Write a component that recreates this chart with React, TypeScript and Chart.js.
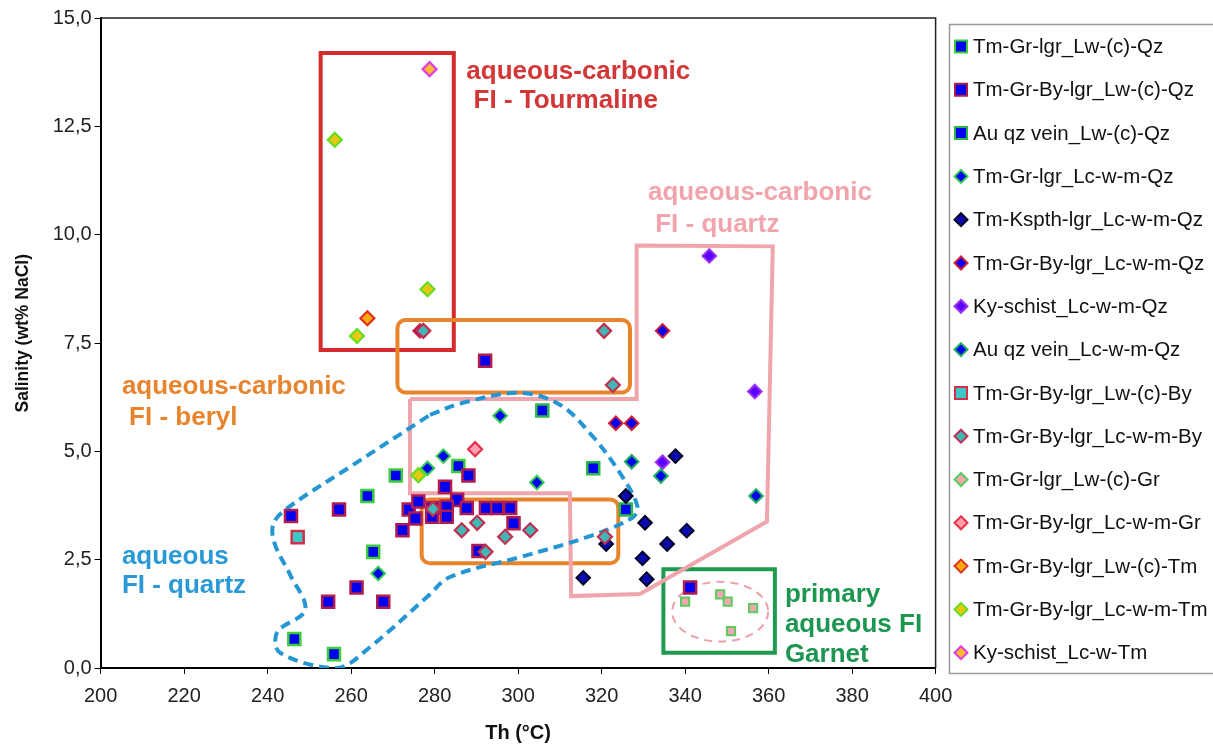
import React, { useEffect, useRef } from 'react';
import { Chart, registerables } from 'chart.js';

Chart.register(...registerables);

type Pt = [number, number]; // [Th (°C), salinity (wt% NaCl)]

// ---------- axes ----------
const xTicks = [200, 220, 240, 260, 280, 300, 320, 340, 360, 380, 400];
const yTicks = [0, 2.5, 5, 7.5, 10, 12.5, 15];

// ---------- series ----------
const seriesLabels = [
  'Tm-Gr-lgr_Lw-(c)-Qz',
  'Tm-Gr-By-lgr_Lw-(c)-Qz',
  'Au qz vein_Lw-(c)-Qz',
  'Tm-Gr-lgr_Lc-w-m-Qz',
  'Tm-Kspth-lgr_Lc-w-m-Qz',
  'Tm-Gr-By-lgr_Lc-w-m-Qz',
  'Ky-schist_Lc-w-m-Qz',
  'Au qz vein_Lc-w-m-Qz',
  'Tm-Gr-By-lgr_Lw-(c)-By',
  'Tm-Gr-By-lgr_Lc-w-m-By',
  'Tm-Gr-lgr_Lw-(c)-Gr',
  'Tm-Gr-By-lgr_Lc-w-m-Gr',
  'Tm-Gr-By-lgr_Lw-(c)-Tm',
  'Tm-Gr-By-lgr_Lc-w-m-Tm',
  'Ky-schist_Lc-w-Tm',
];

const tmGrLwQz: Pt[] = [[263.9, 3.97], [270.7, 4.44], [265.3, 2.68], [246.4, 0.67], [255.9, 0.32], [285.7, 4.66]];
const tmGrByLwQz: Pt[] = [
  [285.4, 3.88], [292.1, 7.09], [245.6, 3.51], [257.1, 3.66], [272.3, 3.18], [261.3, 1.86], [254.5, 1.53],
  [267.7, 1.53], [341.2, 1.86], [288.1, 4.44], [282.5, 4.18], [273.8, 3.66], [275.4, 3.45], [276.1, 3.84],
  [279.5, 3.69], [282.9, 3.72], [287.7, 3.69], [292.3, 3.69], [295.0, 3.69], [298.1, 3.69], [279.4, 3.49],
  [282.9, 3.49], [298.9, 3.34], [290.5, 2.70],
];
const auLwQz: Pt[] = [[305.8, 5.94], [318.0, 4.61], [325.8, 3.66]];
const tmGrLcQz: Pt[] = [[266.5, 2.18], [278.3, 4.61], [282.1, 4.89], [295.7, 5.82], [304.5, 4.28]];
const tmKspthLcQz: Pt[] = [
  [325.8, 3.97], [330.4, 3.35], [340.4, 3.17], [335.7, 2.86], [329.8, 2.53], [330.8, 2.05],
  [315.6, 2.08], [321.1, 2.86], [337.7, 4.89],
];
const tmGrByLcQz: Pt[] = [[334.6, 7.78], [323.4, 5.65], [327.2, 5.65], [276.5, 7.78]];
const kySchistLcQz: Pt[] = [[345.8, 9.51], [356.7, 6.38], [334.6, 4.75]];
const auLcQz: Pt[] = [[327.2, 4.76], [334.2, 4.43], [357.0, 3.97]];
const tmGrByLwBy: Pt[] = [[247.2, 3.02]];
const tmGrByLcBy: Pt[] = [
  [277.3, 7.78], [320.6, 7.78], [322.7, 6.53], [279.6, 3.67], [286.5, 3.18], [290.2, 3.35],
  [296.9, 3.03], [302.9, 3.18], [292.2, 2.68], [320.8, 3.03],
];
const tmGrLwGr: Pt[] = [[340.0, 1.53], [348.4, 1.70], [350.2, 1.53], [356.3, 1.38], [351.0, 0.85]];
const tmGrByLcGr: Pt[] = [[289.7, 5.05]];
const tmGrByLwTm: Pt[] = [[263.9, 8.07]];
const tmGrByLcTm: Pt[] = [[256.1, 12.19], [278.3, 8.74], [261.4, 7.66], [276.1, 4.45]];
const kySchistLcTm: Pt[] = [[278.8, 13.82]];

const seriesData: Pt[][] = [
  tmGrLwQz, tmGrByLwQz, auLwQz, tmGrLcQz, tmKspthLcQz, tmGrByLcQz, kySchistLcQz, auLcQz,
  tmGrByLwBy, tmGrByLcBy, tmGrLwGr, tmGrByLcGr, tmGrByLwTm, tmGrByLcTm, kySchistLcTm,
];

// ---------- marker styles ----------
const seriesStyles = [
  { shape: 'rect', legend: 'rect', fill: '#0000f0', border: '#3ccc3c', r: 8.5, bw: 2.5 },
  { shape: 'rect', legend: 'rect', fill: '#0000f0', border: '#b01c50', r: 8.5, bw: 2.5 },
  { shape: 'rect', legend: 'rect', fill: '#0000f0', border: '#2ab84a', r: 8.5, bw: 2.5 },
  { shape: 'rectRot', legend: 'rectRot', fill: '#0000f0', border: '#33cc55', r: 6.8, bw: 2 },
  { shape: 'rectRot', legend: 'rectRot', fill: '#0a0ab0', border: '#000022', r: 6.8, bw: 2 },
  { shape: 'rectRot', legend: 'rectRot', fill: '#0000f0', border: '#d0203a', r: 6.8, bw: 2 },
  { shape: 'rectRot', legend: 'rectRot', fill: '#5a00ff', border: '#a030f0', r: 6.8, bw: 2 },
  { shape: 'rectRot', legend: 'rectRot', fill: '#0000f0', border: '#20b060', r: 6.8, bw: 2 },
  { shape: 'rect', legend: 'rect', fill: '#3cc8c8', border: '#d03048', r: 8.5, bw: 2.5 },
  { shape: 'rectRot', legend: 'rectRot', fill: '#40b8b8', border: '#c03050', r: 7, bw: 2.2 },
  { shape: 'rect', legend: 'rectRot', fill: '#f4a6b4', border: '#5ccc5c', r: 5.8, bw: 2 },
  { shape: 'rectRot', legend: 'rectRot', fill: '#ff9fb0', border: '#e83048', r: 7, bw: 2.2 },
  { shape: 'rectRot', legend: 'rectRot', fill: '#ffaa10', border: '#e03020', r: 7, bw: 2.2 },
  { shape: 'rectRot', legend: 'rectRot', fill: '#e8c810', border: '#66dd22', r: 7, bw: 2.2 },
  { shape: 'rectRot', legend: 'rectRot', fill: '#ffb830', border: '#e040e0', r: 7, bw: 2.2 },
];

// ---------- annotation geometry (data units) ----------
const quartzPolyT = [274.1, 328.4, 328.4, 361.0, 359.6, 329.2, 312.7, 312.4, 274.1, 274.1];
const quartzPolyS = [6.21, 6.21, 9.75, 9.73, 3.38, 1.71, 1.66, 4.03, 4.03, 6.21];

const aqueousCurve: Pt[] = [
  [278.9, 5.84], [286.8, 6.12], [300.5, 6.35], [310.1, 6.07], [318.0, 5.33], [324.4, 4.5],
  [328.5, 3.76], [327.5, 3.48], [316.5, 3.02], [300.5, 2.56], [283.7, 2.1], [278.2, 1.64],
  [264.5, 0.48], [256.6, 0.0], [243.0, 0.35], [242.3, 0.83], [249.0, 1.34], [245.4, 2.15],
  [241.8, 2.84], [241.3, 3.3], [244.2, 3.65], [259.7, 4.64], [278.9, 5.84],
];

const tourmalineBoxT = [252.7, 284.6];
const tourmalineBoxS = [7.34, 14.19];
const berylBox1T = [271.1, 326.8];
const berylBox1S = [6.36, 8.03];
const berylBox2T = [276.9, 324.0];
const berylBox2S = [2.42, 3.89];
const garnetBoxT = [334.8, 361.5];
const garnetBoxS = [0.35, 2.28];
const garnetEllipse = { t: 348.4, s: 1.3, rt: 11.5, rs: 0.69 };

const noteTourmaline = ['aqueous-carbonic', ' FI - Tourmaline'];
const noteQuartzCarb = ['aqueous-carbonic', ' FI - quartz'];
const noteBeryl = ['aqueous-carbonic', ' FI - beryl'];
const noteAqueous = ['aqueous', 'FI - quartz'];
const noteGarnet = ['primary', 'aqueous FI', 'Garnet'];

const FONT = '"Liberation Sans", Arial, Helvetica, sans-serif';

const boxes = [
  { t: tourmalineBoxT, s: tourmalineBoxS, color: '#d42c2c', radius: 0 },
  { t: berylBox1T, s: berylBox1S, color: '#e8842c', radius: 8 },
  { t: berylBox2T, s: berylBox2S, color: '#e8842c', radius: 8 },
  { t: garnetBoxT, s: garnetBoxS, color: '#1e9a50', radius: 0 },
];

const notes = [
  { lines: noteTourmaline, t: 287.6, s: 13.76, color: '#d23636', gap: 29 },
  { lines: noteQuartzCarb, t: 331.1, s: 10.97, color: '#f2a4ac', gap: 32 },
  { lines: noteBeryl, t: 205.1, s: 6.49, color: '#e8842e', gap: 31 },
  { lines: noteAqueous, t: 205.1, s: 2.56, color: '#2a9ad6', gap: 29 },
  { lines: noteGarnet, t: 363.9, s: 1.7, color: '#1c9650', gap: 30 },
];

const annotationPlugin = {
  id: 'annotations',
  beforeDatasetsDraw(chart: any) {
    const { ctx, scales } = chart;
    const px = (v: number) => scales.x.getPixelForValue(v);
    const py = (v: number) => scales.y.getPixelForValue(v);
    ctx.save();
    for (const b of boxes) {
      const x0 = px(b.t[0]);
      const x1 = px(b.t[1]);
      const y0 = py(b.s[1]);
      const y1 = py(b.s[0]);
      ctx.beginPath();
      ctx.lineWidth = 4;
      ctx.strokeStyle = b.color;
      ctx.lineJoin = 'miter';
      if (b.radius) (ctx as any).roundRect(x0, y0, x1 - x0, y1 - y0, b.radius);
      else ctx.rect(x0, y0, x1 - x0, y1 - y0);
      ctx.stroke();
    }
    const e = garnetEllipse;
    const cx = px(e.t);
    const cy = py(e.s);
    const rx = Math.abs(px(e.t + e.rt) - cx);
    const ry = Math.abs(py(e.s + e.rs) - cy);
    ctx.beginPath();
    ctx.setLineDash([8, 6]);
    ctx.lineWidth = 2;
    ctx.strokeStyle = '#eea0a8';
    ctx.ellipse(cx, cy, rx, ry, 0, 0, Math.PI * 2);
    ctx.stroke();
    ctx.setLineDash([]);
    ctx.restore();
  },
  afterDatasetsDraw(chart: any) {
    const { ctx, scales } = chart;
    ctx.save();
    ctx.font = `bold 26px ${FONT}`;
    ctx.textAlign = 'left';
    ctx.textBaseline = 'middle';
    for (const n of notes) {
      const x = scales.x.getPixelForValue(n.t);
      const y = scales.y.getPixelForValue(n.s);
      ctx.fillStyle = n.color;
      n.lines.forEach((line, i) => ctx.fillText(line, x, y + i * n.gap));
    }
    ctx.restore();
  },
  afterDraw(chart: any) {
    const { ctx, chartArea } = chart;
    ctx.save();
    // plot frame (top / right)
    ctx.strokeStyle = '#222';
    ctx.lineWidth = 1.5;
    ctx.beginPath();
    ctx.moveTo(chartArea.left, chartArea.top);
    ctx.lineTo(chartArea.right, chartArea.top);
    ctx.lineTo(chartArea.right, chartArea.bottom);
    ctx.stroke();

    // legend
    const lx = 949.5;
    const ly = 24.5;
    ctx.strokeStyle = '#9a9a9a';
    ctx.lineWidth = 1.5;
    ctx.strokeRect(lx, ly, 300, 649);
    ctx.font = `20.5px ${FONT}`;
    ctx.textAlign = 'left';
    ctx.textBaseline = 'middle';
    seriesLabels.forEach((label, i) => {
      const st = seriesStyles[i];
      const y = 46.5 + i * 43.3;
      const mx = 961;
      ctx.beginPath();
      if (st.legend === 'rect') {
        ctx.rect(mx - 6, y - 6, 12, 12);
      } else {
        ctx.moveTo(mx, y - 6.5);
        ctx.lineTo(mx + 6.5, y);
        ctx.lineTo(mx, y + 6.5);
        ctx.lineTo(mx - 6.5, y);
        ctx.closePath();
      }
      ctx.fillStyle = st.fill;
      ctx.fill();
      ctx.lineWidth = 2;
      ctx.strokeStyle = st.border;
      ctx.stroke();
      ctx.fillStyle = '#111';
      ctx.fillText(label, 973, y + 1);
    });
    ctx.restore();
  },
};

export default function App() {
  const ref = useRef<HTMLCanvasElement | null>(null);

  useEffect(() => {
    if (!ref.current) return;

    const shapeDatasets: any[] = [
      {
        label: 'quartz-carbonic field',
        data: quartzPolyT.map((t, i) => ({ x: t, y: quartzPolyS[i] })),
        showLine: true,
        borderColor: '#f0a4ac',
        borderWidth: 4,
        pointRadius: 0,
        fill: false,
        tension: 0,
        borderJoinStyle: 'miter',
        order: 100,
      },
      {
        label: 'aqueous quartz field',
        data: aqueousCurve.map(([t, s]) => ({ x: t, y: s })),
        showLine: true,
        borderColor: '#2596d4',
        borderWidth: 4,
        borderDash: [10, 6],
        pointRadius: 0,
        fill: false,
        tension: 0.35,
        order: 99,
      },
    ];

    const pointDatasets = seriesData.map((pts, i) => {
      const st = seriesStyles[i];
      return {
        label: seriesLabels[i],
        data: pts.map(([t, s]) => ({ x: t, y: s })),
        showLine: false,
        pointStyle: st.shape,
        pointRadius: st.r,
        pointBackgroundColor: st.fill,
        pointBorderColor: st.border,
        pointBorderWidth: st.bw,
        backgroundColor: st.fill,
        borderColor: st.border,
        order: -i,
      };
    });

    const chart = new Chart(ref.current, {
      type: 'scatter',
      data: { datasets: [...shapeDatasets, ...pointDatasets] },
      options: {
        responsive: false,
        animation: false,
        devicePixelRatio: 1,
        events: [],
        layout: { padding: { left: 0, top: 18, right: 277.4, bottom: 0 } },
        plugins: { legend: { display: false }, tooltip: { enabled: false } },
        scales: {
          x: {
            type: 'linear',
            min: xTicks[0],
            max: xTicks[xTicks.length - 1],
            afterBuildTicks: (s: any) => { s.ticks = xTicks.map((v) => ({ value: v })); },
            afterFit: (s: any) => { s.height = 77; },
            ticks: { font: { family: FONT, size: 20 }, color: '#222', padding: 10, maxRotation: 0 },
            grid: { drawOnChartArea: false, drawTicks: true, tickLength: 6, color: '#000', lineWidth: 1 },
            border: { display: true, color: '#000', width: 2 },
            title: {
              display: true,
              text: 'Th (°C)',
              color: '#111',
              font: { family: FONT, size: 20, weight: 'bold' },
              padding: { top: 0, bottom: 0 },
            },
          },
          y: {
            type: 'linear',
            min: yTicks[0],
            max: yTicks[yTicks.length - 1],
            afterBuildTicks: (s: any) => { s.ticks = yTicks.map((v) => ({ value: v })); },
            afterFit: (s: any) => { s.width = 100.6; },
            ticks: {
              font: { family: FONT, size: 20 },
              color: '#222',
              padding: 3,
              callback: (v: any) => Number(v).toFixed(1).replace('.', ','),
            },
            grid: { drawOnChartArea: false, drawTicks: true, tickLength: 6, color: '#000', lineWidth: 1 },
            border: { display: true, color: '#000', width: 2 },
            title: {
              display: true,
              text: '    Salinity (wt% NaCl)',
              color: '#111',
              font: { family: FONT, size: 17.5, weight: 'bold' },
              padding: { top: 13, bottom: 0 },
            },
          },
        },
      } as any,
      plugins: [annotationPlugin],
    });

    return () => chart.destroy();
  }, []);

  return (
    <div style={{ position: 'fixed', left: 0, top: 0, width: 1213, height: 745, background: '#fff' }}>
      <canvas ref={ref} width={1213} height={745} style={{ display: 'block' }} />
    </div>
  );
}
